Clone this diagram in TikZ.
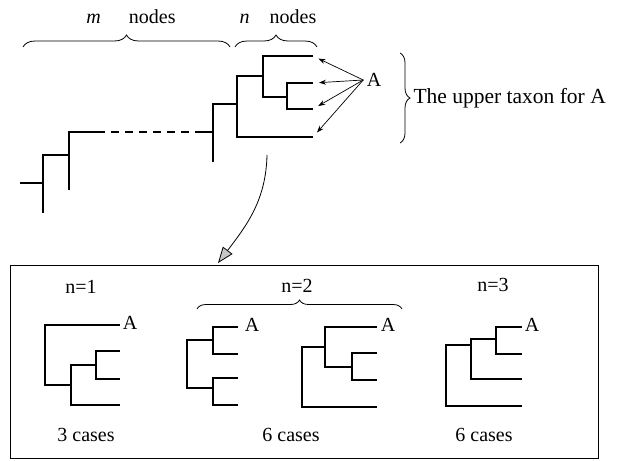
\documentclass[tikz,border=0pt]{standalone}
\usepackage{fontspec}
\setmainfont{Liberation Serif}
\usetikzlibrary{arrows.meta,decorations.pathreplacing}

\begin{document}
\begin{tikzpicture}[
        x=1pt, y=-1pt,
        >={Stealth[length=7pt,width=5pt]},
        every node/.style={font=\fontsize{20}{24}\selectfont},
        tree/.style={line width=2.2pt},
        brc/.style={decorate, decoration={brace, amplitude=#1}, line width=0.8pt},
        brc/.default=11pt
    ]
    \useasboundingbox (0,0) rectangle (623,460);

    % Leaves of the big tree
    \coordinate (l1) at (313,56);
    \coordinate (l2) at (313,83);
    \coordinate (l3) at (313,109);
    \coordinate (l4) at (313,137);

    % Big tree
    \draw[tree] (20,183) -- (43,183);
    \draw[tree] (43,213) |- (69,155);
    \draw[tree] (69,190) |- (97,132);
    \draw[tree, dash pattern=on 8pt off 6pt] (97,132) -- (197,132);
    \draw[tree] (197,132) -- (213,132);
    \draw[tree] (213,162) |- (237,104);
    \draw[tree] (l4) -| (237,76) -- (263,76);
    \draw[tree] (l1) -| (263,97) -- (287,97);
    \draw[tree] (l2) -| (287,109) -- (l3);

    % Braces
    \draw[brc=12pt] (23,47) -- (230,47);
    \draw[brc=12pt] (235,47) -- (317,47);
    \draw[brc=10pt] (400,53) -- (400,143);
    \node (mlab) at (131,17) {\textit{m}\hspace{1.4em}nodes};
    \node (nlab) at (278,17) {\textit{n}\quad nodes};
    \node[anchor=west, font=\fontsize{21.5}{24}\selectfont] (upper) at (410,98)
        {The upper taxon for A};

    % A points to the leaves
    \node (A) at (374,80) {A};
    \foreach \l in {l1,l2,l3,l4}
        \draw[->, line width=0.7pt, shorten >=6pt] (A.west) -- (\l);

    % Box of cases
    \node[draw, line width=0.8pt, minimum width=588pt, minimum height=193pt,
          inner sep=0pt] (frame) at (304,361.5) {};
    \coordinate (src) at (267,155);
    \coordinate (dst) at (218,263);
    \draw[line width=0.8pt, -{Triangle[length=16pt,width=12pt,fill=gray!45]}]
        (src) .. controls (266,200) and (247,225) .. (dst);

    % n=1
    \node (n1) at (81,287) {n=1};
    \draw[tree] (120,325) -| (45,385) -- (71,385);
    \draw[tree] (120,405) -| (71,365) -- (96,365);
    \draw[tree] (120,351) -| (96,379) -- (120,379);
    \node (A1) at (130,323) {A};
    \node (c1) at (86,435) {3 cases};

    % n=2
    \node (n2) at (297,286) {n=2};
    \draw[brc=9pt] (197,309) -- (402,309);
    \draw[tree] (213,340) -| (187,388) -- (213,388);
    \draw[tree] (238,327) -| (213,354) -- (238,354);
    \draw[tree] (238,378) -| (213,405) -- (238,405);
    \node (A2) at (252,325) {A};
    \draw[tree] (377,407) -| (302,347) -- (325,347);
    \draw[tree] (377,327) -| (325,367) -- (352,367);
    \draw[tree] (377,353) -| (352,380) -- (377,380);
    \node (A3) at (388,325) {A};
    \node (c2) at (291,435) {6 cases};

    % n=3
    \node (n3) at (493,285) {n=3};
    \draw[tree] (522,406) -| (446,345) -- (471,345);
    \draw[tree] (522,379) -| (471,339) -- (496,339);
    \draw[tree] (522,327) -| (496,354) -- (522,354);
    \node (A4) at (532,325) {A};
    \node (c3) at (484,435) {6 cases};

\end{tikzpicture}
\end{document}
